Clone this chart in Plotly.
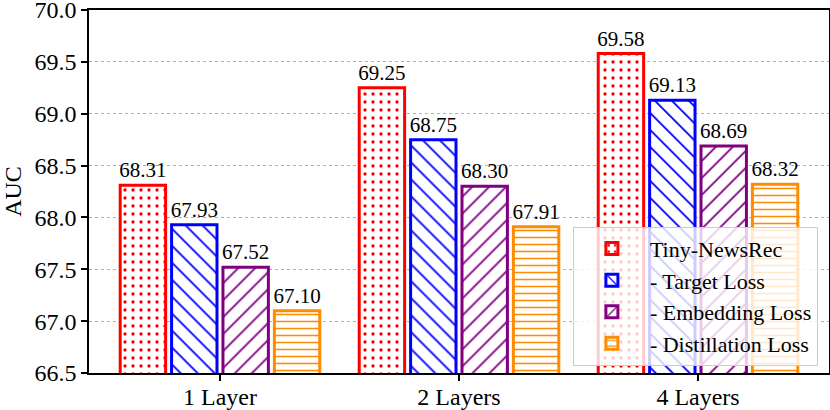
import plotly.graph_objects as go

categories = ["1 Layer", "2 Layers", "4 Layers"]
series_names = ["Tiny-NewsRec", "- Target Loss", "- Embedding Loss", "- Distillation Loss"]
values = [
    [68.31, 69.25, 69.58],
    [67.93, 68.75, 69.13],
    [67.52, 68.30, 68.69],
    [67.10, 67.91, 68.32],
]
colors = ["#ff0000", "#0000ff", "#800080", "#ff8c00"]
patterns = [".", "\\", "/", "-"]
pattern_sizes = [8, 12, 12, 7]
pattern_solidity = [0.14, 0.15, 0.15, 0.22]
yticks = [66.5, 67.0, 67.5, 68.0, 68.5, 69.0, 69.5, 70.0]

FONT = "Liberation Serif, Times New Roman, serif"
width = 0.19
pitch = 0.215

fig = go.Figure()
for i, name in enumerate(series_names):
    center = -1.5 * pitch + pitch * i
    fig.add_trace(go.Bar(
        x=list(range(len(categories))),
        y=values[i],
        base=0,
        name=name,
        width=width,
        offset=center - width / 2,
        marker=dict(
            color="white",
            line=dict(color=colors[i], width=3),
            pattern=dict(shape=patterns[i], fgcolor=colors[i], bgcolor="white",
                         size=pattern_sizes[i], solidity=pattern_solidity[i],
                         fillmode="replace", fgopacity=1),
        ),
        text=[f"{v:.2f}" for v in values[i]],
        textposition="outside",
        textfont=dict(family=FONT, size=21, color="black"),
        cliponaxis=False,
    ))

fig.update_layout(
    width=830, height=410,
    margin=dict(l=89, r=1, t=10, b=37, autoexpand=False),
    paper_bgcolor="white", plot_bgcolor="white",
    font=dict(family=FONT, size=24, color="black"),
    barmode="overlay",
    showlegend=True,
    legend=dict(
        x=0.985, y=0.02, xanchor="right", yanchor="bottom",
        bgcolor="rgba(255,255,255,0.8)", bordercolor="#cccccc", borderwidth=1,
        font=dict(family=FONT, size=22, color="black"),
        tracegroupgap=0, itemwidth=66,
    ),
    uniformtext=dict(minsize=21, mode="show"),
)
fig.update_xaxes(
    range=[-0.548, 2.548],
    tickmode="array", tickvals=list(range(len(categories))), ticktext=categories,
    ticks="outside", ticklen=6, tickwidth=1.5, tickcolor="black",
    showline=True, linecolor="black", linewidth=1.5, mirror=True,
    showgrid=False, zeroline=False, automargin=False,
    tickfont=dict(family=FONT, size=24),
    ticklabeloverflow="allow", ticklabelstandoff=-5,
)
fig.update_yaxes(
    range=[66.5, 70.0005],
    tickmode="array", tickvals=yticks, ticktext=[f"{t:.1f}" for t in yticks],
    ticks="outside", ticklen=6, tickwidth=1.5, tickcolor="black",
    showline=True, linecolor="black", linewidth=1.5, mirror=True,
    showgrid=True, gridcolor="#b0b0b0", griddash="dot", gridwidth=1,
    zeroline=False, automargin=False,
    title=dict(text="AUC", font=dict(family=FONT, size=24), standoff=12),
    tickfont=dict(family=FONT, size=24),
    ticklabeloverflow="allow",
)

fig.write_html("out.html", config={"displayModeBar": False},
               post_script="document.body.style.margin='0px';")
